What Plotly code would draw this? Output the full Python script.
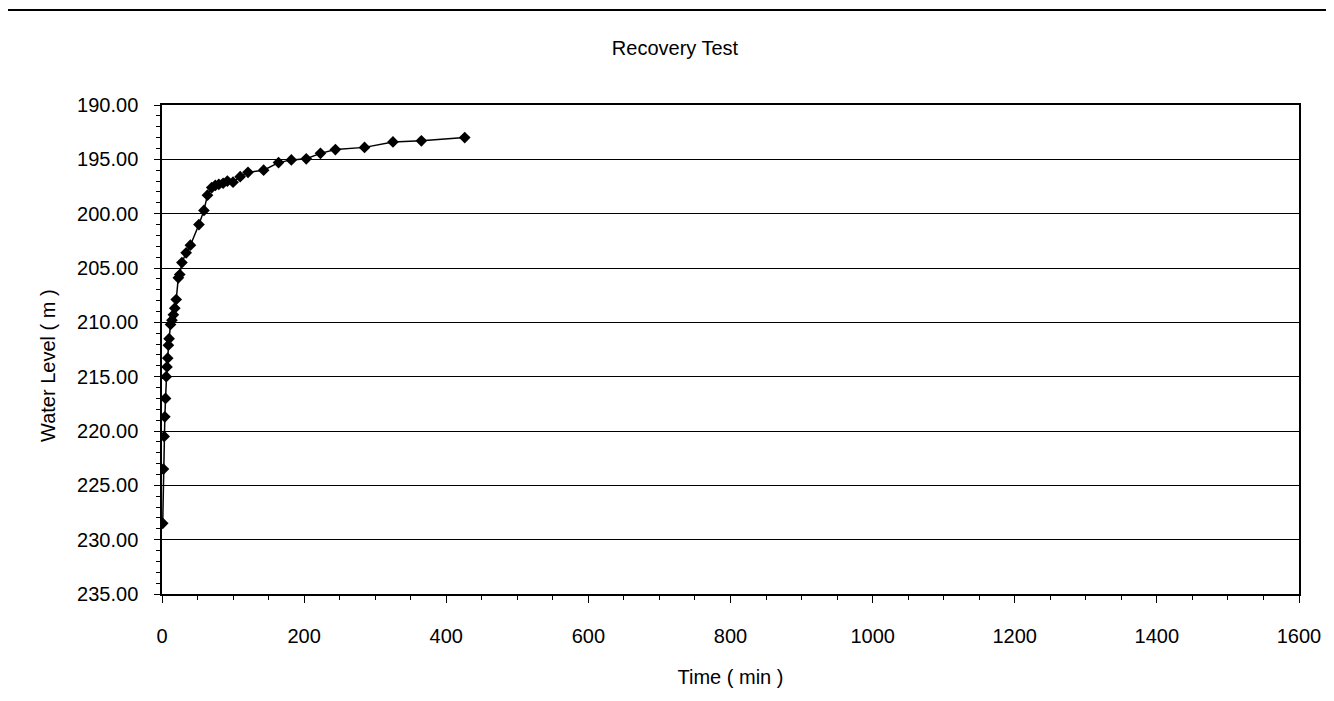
import plotly.graph_objects as go

# Recovery test data (time in minutes, water level in m)
time_min = [1, 2, 3, 4, 5, 6, 7, 8, 9, 10, 12, 14, 16, 18, 20, 23, 25, 28, 34, 40,
            52, 59, 64, 70, 75, 80, 86, 92, 100, 110, 121, 143, 164, 182, 203,
            223, 244, 285, 325, 365, 426]
water_level = [228.5, 223.5, 220.5, 218.7, 217.0, 215.0, 214.1, 213.3, 212.1, 211.5,
               210.2, 209.8, 209.3, 208.7, 207.9, 205.9, 205.6, 204.5, 203.6, 202.9,
               201.0, 199.7, 198.3, 197.6, 197.4, 197.3, 197.2, 197.0, 197.1, 196.6,
               196.2, 196.0, 195.3, 195.05, 194.95, 194.45, 194.1, 193.9, 193.4, 193.3,
               193.0]

title_text = "Recovery Test"
x_title = "Time ( min )"
y_title = "Water Level ( m )"

FONT = "Liberation Sans, Arial, sans-serif"
W, H = 1334, 701
L, R, T, B = 154, 43, 97, 115
PW, PH = W - L - R, H - T - B

fig = go.Figure()
fig.add_trace(go.Scatter(
    x=time_min, y=water_level, mode="lines+markers",
    line=dict(color="black", width=1.5),
    marker=dict(symbol="diamond", size=9, color="black"),
    showlegend=False,
))

fig.update_layout(
    width=W, height=H,
    paper_bgcolor="white", plot_bgcolor="white",
    margin=dict(l=L, r=R, t=T, b=B),
    title=dict(text=title_text, x=0.5, xref="container", xanchor="center",
               y=1 - 40 / H, yanchor="middle",
               font=dict(family=FONT, size=20, color="black")),
    font=dict(family=FONT, color="black"),
    xaxis=dict(
        range=[0, 1600], dtick=200, tick0=0,
        showgrid=False, zeroline=False,
        showline=True, linecolor="black", linewidth=1.5, mirror=True,
        ticks="outside", ticklen=7, tickcolor="black",
        ticklabelstandoff=16,
        minor=dict(dtick=50, ticks="outside", ticklen=4, tickcolor="black"),
        tickfont=dict(family=FONT, size=20, color="black"),
        title=dict(text=x_title, font=dict(family=FONT, size=20, color="black"), standoff=24),
    ),
    yaxis=dict(
        range=[235, 190], dtick=5, tick0=190, tickformat=".2f",
        showgrid=True, gridcolor="black", gridwidth=1.3,
        zeroline=False,
        showline=True, linecolor="black", linewidth=1.5, mirror=True,
        ticks="outside", ticklen=6, tickcolor="black",
        ticklabelstandoff=12,
        minor=dict(dtick=1, ticks="outside", ticklen=4, tickcolor="black", showgrid=False),
        tickfont=dict(family=FONT, size=20, color="black"),
    ),
    annotations=[dict(text=y_title, textangle=-90, showarrow=False,
                      xref="paper", yref="paper",
                      x=-(L - 40) / PW, y=1 - (358 - T) / PH,
                      xanchor="center", yanchor="middle",
                      font=dict(family=FONT, size=20, color="black"))],
    shapes=[dict(type="line", xref="paper", yref="paper",
                 x0=-L / PW, x1=(W - L) / PW, y0=(H - B - 2) / PH, y1=(H - B - 2) / PH,
                 line=dict(color="black", width=2))],
)

fig.write_html("out.html")
